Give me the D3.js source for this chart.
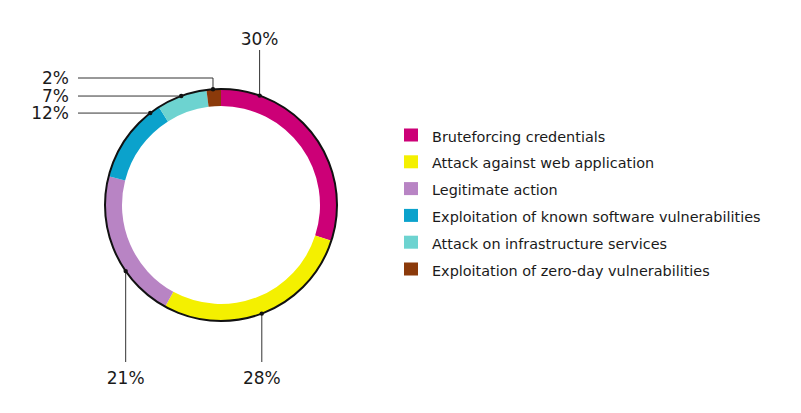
<!DOCTYPE html>
<html><head><meta charset="utf-8">
<script src="https://cdn.jsdelivr.net/npm/d3@7"></script>
<style>body{margin:0;background:#fff}svg{display:block}text{font-family:"DejaVu Sans","Noto Sans",sans-serif;fill:#1a1a1a}</style>
</head><body><svg id="c" width="801" height="413"></svg>
<script>
const categories = ["Bruteforcing credentials","Attack against web application","Legitimate action","Exploitation of known software vulnerabilities","Attack on infrastructure services","Exploitation of zero-day vulnerabilities"];
const values = [30, 28, 21, 12, 7, 2];
const labels = ["30%","28%","21%","12%","7%","2%"];
const colors = ["#cc0077","#f4f000","#b884c4","#0ba2cc","#6dd3d0","#8b3a0a"];

const svg = d3.select("#c");
const cx = 221, cy = 205, R = 116, r = 99;
const g = svg.append("g").attr("transform", `translate(${cx},${cy})`);
const pie = d3.pie().sort(null).value(d => d)(values);
const arc = d3.arc().innerRadius(r).outerRadius(R);
g.selectAll("path.s").data(pie).join("path").attr("class","s")
  .attr("d", arc).attr("fill", (d,i) => colors[i]);
g.append("circle").attr("r", R).attr("fill","none").attr("stroke","#111").attr("stroke-width",2);

// leader layout: anchor as fraction within slice; label mode
const layout = [
  {t:0.18, mode:"up", ly:50, ty:44.5},
  {t:0.51, mode:"down", ly:362, ty:384},
  {t:0.35, mode:"down", ly:362, ty:384},
  {t:0.88, mode:"left", lx:78, tx:69},
  {t:0.49, mode:"left", lx:78, tx:69},
  {t:0.45, mode:"leftup", lx:78, tx:69, ly:78}
];
const lg = svg.append("g");
pie.forEach((d,i) => {
  const L = layout[i];
  const a = d.startAngle + (d.endAngle - d.startAngle) * L.t;
  const px = cx + R*Math.sin(a), py = cy - R*Math.cos(a);
  let pts, tx, ty, anchor;
  if (L.mode === "up" || L.mode === "down") {
    pts = [[px,py],[px,L.ly]]; tx = px; ty = L.ty; anchor = "middle";
  } else if (L.mode === "left") {
    pts = [[px,py],[L.lx,py]]; tx = L.tx; ty = py + 6; anchor = "end";
  } else {
    pts = [[px,py],[px,L.ly],[L.lx,L.ly]]; tx = L.tx; ty = L.ly + 6; anchor = "end";
  }
  lg.append("path").attr("d", d3.line()(pts)).attr("fill","none").attr("stroke","#333").attr("stroke-width",1);
  lg.append("circle").attr("cx",px).attr("cy",py).attr("r",2.2).attr("fill","#111");
  lg.append("text").attr("x",tx).attr("y",ty).attr("text-anchor",anchor)
    .attr("font-size",17).text(labels[i]);
});

const y = d3.scalePoint().domain(categories).range([135, 269]);
const leg = svg.append("g");
const texts = [];
categories.forEach((c,i) => {
  leg.append("rect").attr("x",404).attr("y",y(c)-6.5).attr("width",14).attr("height",13).attr("fill",colors[i]);
  texts.push(leg.append("text").attr("x",432).attr("y",y(c)+6.5).attr("font-size",13).text(c));
});
// fit legend font so longest label spans the same width as the reference (~329px)
const longest = d3.max(texts, t => t.node().getComputedTextLength());
const fs = Math.min(15, 13 * 329 / longest);
texts.forEach(t => t.attr("font-size", fs));
</script></body></html>
